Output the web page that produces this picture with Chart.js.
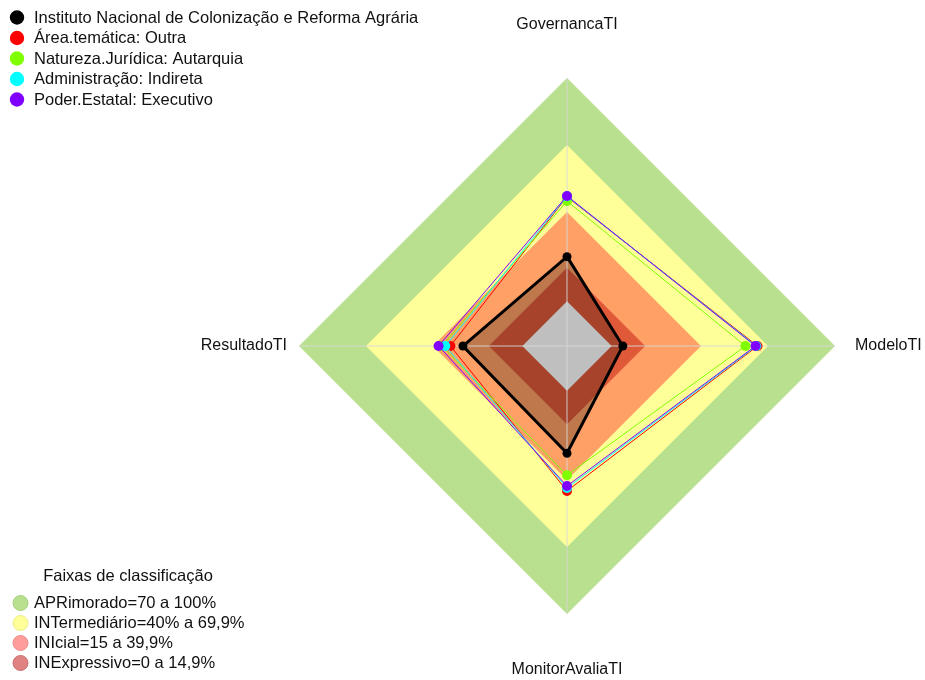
<!DOCTYPE html>
<html>
<head>
<meta charset="utf-8">
<script src="https://cdn.jsdelivr.net/npm/chart.js@4.4.1/dist/chart.umd.min.js"></script>
<style>
    html, body { margin: 0; padding: 0; background: #fff; }
    #wrap { width: 925px; height: 680px; position: relative; }
</style>
</head>
<body>
<div id="wrap"><canvas id="radarChart"></canvas></div>
<script>
const axisLabels = ['GovernancaTI', 'ModeloTI', 'MonitorAvaliaTI', 'ResultadoTI'];

const seriesNames = [
    'Instituto Nacional de Colonização e Reforma Agrária',
    'Área.temática: Outra',
    'Natureza.Jurídica: Autarquia',
    'Administração: Indireta',
    'Poder.Estatal: Executivo'
];
const seriesColors = ['#000000', '#ff0000', '#80ff00', '#00ffff', '#8000ff'];

const incraValues = [20, 5, 28, 26.6];
const areaValues = [46.8, 65.3, 44.9, 32.2];
const naturezaValues = [44.9, 59.9, 37.9, 36.0];
const administracaoValues = [47.0, 64.8, 43.6, 34.5];
const poderValues = [47.2, 64.4, 42.7, 37.5];

const bandTitle = 'Faixas de classificação';
const bandNames = [
    'APRimorado=70 a 100%',
    'INTermediário=40% a 69,9%',
    'INIcial=15 a 39,9%',
    'INExpressivo=0 a 14,9%'
];
const bandLimits = [100, 70, 40, 15];
const bandColors = ['#b8e08e', '#ffff99', '#ffa066', '#e05a3a'];
const bandLegendColors = ['#b8e08e', '#ffff99', '#ff9c9c', '#e08282'];
const bandLegendBorders = ['#a6cf7c', '#ecec86', '#ee8a8a', '#c86e6e'];

const FONT = '"Liberation Sans", Arial, sans-serif';

// axis names around the diamond, placed with the scale's own geometry
const axisLabelPlugin = {
    id: 'axisLabels',
    afterDraw(chart) {
        const scale = chart.scales.r;
        const ctx = chart.ctx;
        const pads = [53, 20, 56, 12];
        const aligns = ['center', 'left', 'center', 'right'];
        ctx.save();
        ctx.font = '16px ' + FONT;
        ctx.fillStyle = '#111';
        ctx.textBaseline = 'middle';
        axisLabels.forEach((label, i) => {
            const p = scale.getPointPosition(i, scale.drawingArea + pads[i]);
            ctx.textAlign = aligns[i];
            ctx.fillText(label, p.x, p.y);
        });
        ctx.restore();
    }
};

// the two legends (series top-left, bands bottom-left)
const legendPlugin = {
    id: 'customLegends',
    afterDraw(chart) {
        const ctx = chart.ctx;
        ctx.save();
        ctx.font = '16.5px ' + FONT;
        ctx.textBaseline = 'middle';
        ctx.textAlign = 'left';

        seriesNames.forEach((name, i) => {
            const y = 17.5 + i * 20.5;
            ctx.beginPath();
            ctx.arc(17, y, 7.2, 0, Math.PI * 2);
            ctx.fillStyle = seriesColors[i];
            ctx.fill();
            ctx.fillStyle = '#111';
            ctx.fillText(name, 34, y + 0.5);
        });

        ctx.textAlign = 'center';
        ctx.fillStyle = '#111';
        ctx.fillText(bandTitle, 128, 576);
        ctx.textAlign = 'left';
        bandNames.forEach((name, i) => {
            const y = 603 + i * 20;
            ctx.beginPath();
            ctx.arc(20.5, y, 7.5, 0, Math.PI * 2);
            ctx.fillStyle = bandLegendColors[i];
            ctx.fill();
            ctx.lineWidth = 1;
            ctx.strokeStyle = bandLegendBorders[i];
            ctx.stroke();
            ctx.fillStyle = '#111';
            ctx.fillText(name, 34, y + 0.5);
        });
        ctx.restore();
    }
};

function bandDataset(limit, color, order) {
    return {
        label: 'band' + limit,
        data: axisLabels.map(() => limit),
        backgroundColor: color,
        borderColor: 'transparent',
        borderWidth: 0,
        pointRadius: 0,
        fill: 'start',
        order: order
    };
}

function seriesDataset(i, values, order) {
    const isMain = i === 0;
    return {
        label: seriesNames[i],
        data: values,
        borderColor: seriesColors[i],
        backgroundColor: isMain ? 'rgba(0,0,0,0.25)' : 'transparent',
        pointBackgroundColor: seriesColors[i],
        pointBorderColor: seriesColors[i],
        pointRadius: isMain ? 4.5 : 5,
        pointBorderWidth: 0,
        borderWidth: isMain ? 3 : 1,
        fill: isMain ? 'start' : false,
        order: order
    };
}

const datasets = [
    seriesDataset(0, incraValues, 5),
    seriesDataset(1, areaValues, 4),
    seriesDataset(2, naturezaValues, 3),
    seriesDataset(3, administracaoValues, 2),
    seriesDataset(4, poderValues, 1)
];
bandLimits.forEach((limit, i) => {
    datasets.push(bandDataset(limit, bandColors[i], 20 - i));
});
// white core below zero
datasets.push(bandDataset(0, '#ffffff', 15));

const ctx = document.getElementById('radarChart').getContext('2d');
const chart = new Chart(ctx, {
    type: 'radar',
    data: {
        labels: axisLabels,
        datasets: datasets
    },
    options: {
        responsive: true,
        maintainAspectRatio: false,
        animation: false,
        events: [],
        layout: {
            padding: { left: 287, right: 78, top: 78, bottom: 66 }
        },
        elements: {
            line: { tension: 0 }
        },
        plugins: {
            legend: { display: false },
            tooltip: { enabled: false },
            filler: { drawTime: 'beforeDraw' }
        },
        scales: {
            r: {
                min: -20,
                max: 100,
                ticks: { display: false },
                grid: { display: false },
                angleLines: { color: 'rgba(215,215,215,0.9)', lineWidth: 1 },
                pointLabels: { display: false }
            }
        }
    },
    plugins: [axisLabelPlugin, legendPlugin]
});
</script>
</body>
</html>
